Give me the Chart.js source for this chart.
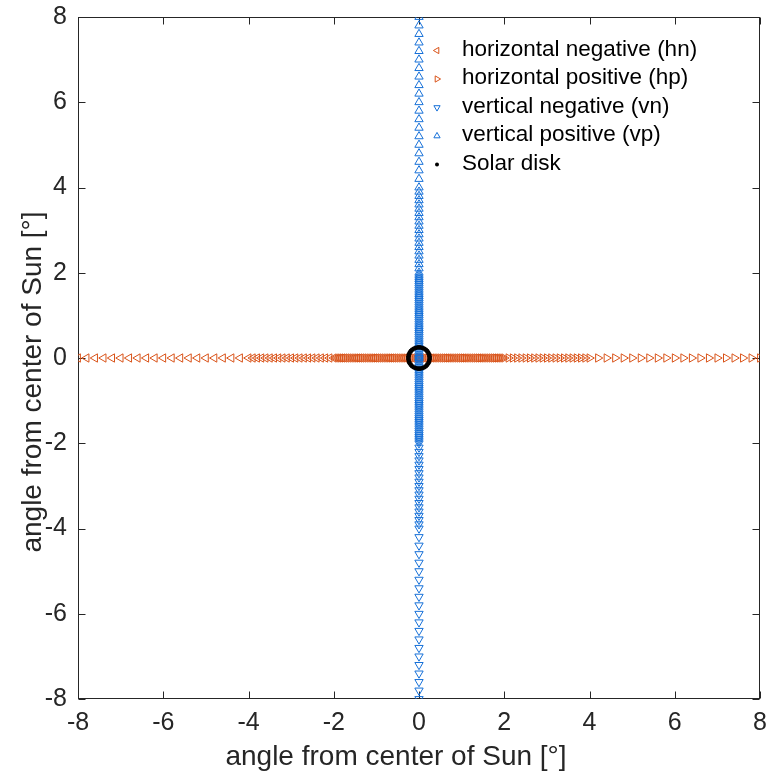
<!DOCTYPE html>
<html>
<head>
<meta charset="utf-8">
<script src="https://cdn.jsdelivr.net/npm/chart.js@4/dist/chart.umd.min.js"></script>
<style>
  html, body { margin: 0; padding: 0; background: #fff; }
  #wrap { width: 766px; height: 778px; position: relative; }
</style>
</head>
<body>
<div id="wrap"><canvas id="c" width="766" height="778"></canvas></div>
<script>
// ---- data (angles in degrees from the centre of the Sun) ----
const hnX = [-8,-7.8,-7.6,-7.4,-7.2,-7,-6.8,-6.6,-6.4,-6.2,-6,-5.8,-5.6,-5.4,-5.2,-5,-4.8,-4.6,-4.4,-4.2,
  -4,-3.9,-3.8,-3.7,-3.6,-3.5,-3.4,-3.3,-3.2,-3.1,-3,-2.9,-2.8,-2.7,-2.6,-2.5,-2.4,-2.3,-2.2,-2.1,
  -2,-1.95,-1.9,-1.85,-1.8,-1.75,-1.7,-1.65,-1.6,-1.55,-1.5,-1.45,-1.4,-1.35,-1.3,-1.25,-1.2,-1.15,-1.1,-1.05,
  -1,-0.95,-0.9,-0.85,-0.8,-0.75,-0.7,-0.65,-0.6,-0.55,-0.5,-0.45,-0.4,-0.35,-0.3,-0.25,-0.2,-0.15,-0.1,-0.05,0];
const hpX = [8,7.8,7.6,7.4,7.2,7,6.8,6.6,6.4,6.2,6,5.8,5.6,5.4,5.2,5,4.8,4.6,4.4,4.2,
  4,3.9,3.8,3.7,3.6,3.5,3.4,3.3,3.2,3.1,3,2.9,2.8,2.7,2.6,2.5,2.4,2.3,2.2,2.1,
  2,1.95,1.9,1.85,1.8,1.75,1.7,1.65,1.6,1.55,1.5,1.45,1.4,1.35,1.3,1.25,1.2,1.15,1.1,1.05,
  1,0.95,0.9,0.85,0.8,0.75,0.7,0.65,0.6,0.55,0.5,0.45,0.4,0.35,0.3,0.25,0.2,0.15,0.1,0.05,0];
const vnY = [-8,-7.8,-7.6,-7.4,-7.2,-7,-6.8,-6.6,-6.4,-6.2,-6,-5.8,-5.6,-5.4,-5.2,-5,-4.8,-4.6,-4.4,-4.2,
  -4,-3.9,-3.8,-3.7,-3.6,-3.5,-3.4,-3.3,-3.2,-3.1,-3,-2.9,-2.8,-2.7,-2.6,-2.5,-2.4,-2.3,-2.2,-2.1,
  -2,-1.95,-1.9,-1.85,-1.8,-1.75,-1.7,-1.65,-1.6,-1.55,-1.5,-1.45,-1.4,-1.35,-1.3,-1.25,-1.2,-1.15,-1.1,-1.05,
  -1,-0.95,-0.9,-0.85,-0.8,-0.75,-0.7,-0.65,-0.6,-0.55,-0.5,-0.45,-0.4,-0.35,-0.3,-0.25,-0.2,-0.15,-0.1,-0.05,0];
const vpY = [8,7.8,7.6,7.4,7.2,7,6.8,6.6,6.4,6.2,6,5.8,5.6,5.4,5.2,5,4.8,4.6,4.4,4.2,
  4,3.9,3.8,3.7,3.6,3.5,3.4,3.3,3.2,3.1,3,2.9,2.8,2.7,2.6,2.5,2.4,2.3,2.2,2.1,
  2,1.95,1.9,1.85,1.8,1.75,1.7,1.65,1.6,1.55,1.5,1.45,1.4,1.35,1.3,1.25,1.2,1.15,1.1,1.05,
  1,0.95,0.9,0.85,0.8,0.75,0.7,0.65,0.6,0.55,0.5,0.45,0.4,0.35,0.3,0.25,0.2,0.15,0.1,0.05,0];
const sunX = [0.25,0.246,0.235,0.217,0.192,0.161,0.125,0.086,0.043,0,-0.043,-0.086,-0.125,-0.161,-0.192,-0.217,-0.235,-0.246,
  -0.25,-0.246,-0.235,-0.217,-0.192,-0.161,-0.125,-0.086,-0.043,0,0.043,0.086,0.125,0.161,0.192,0.217,0.235,0.246];
const sunY = [0,0.043,0.086,0.125,0.161,0.192,0.217,0.235,0.246,0.25,0.246,0.235,0.217,0.192,0.161,0.125,0.086,0.043,
  0,-0.043,-0.086,-0.125,-0.161,-0.192,-0.217,-0.235,-0.246,-0.25,-0.246,-0.235,-0.217,-0.192,-0.161,-0.125,-0.086,-0.043];
const tickValues = [-8,-6,-4,-2,0,2,4,6,8];
const tickLabels = ['-8','-6','-4','-2','0','2','4','6','8'];
const seriesLabels = ['horizontal negative (hn)','horizontal positive (hp)','vertical negative (vn)','vertical positive (vp)','Solar disk'];
const axisTitle = 'angle from center of Sun [°]';

// ---- styling ----
const ORANGE = '#D95319';
const BLUE = '#1670D8';
const AXC = '#262626';
const FONT = '"Liberation Sans", Arial, Helvetica, sans-serif';

function tri(label, data, color, rot, order) {
  return { label, data, order, pointStyle: 'triangle', rotation: rot,
    borderColor: color, backgroundColor: 'rgba(0,0,0,0)', borderWidth: 1,
    pointRadius: 4.8, pointHoverRadius: 4.8, showLine: false };
}

const datasets = [
  tri(seriesLabels[0], hnX.map(x => ({x, y: 0})), ORANGE, 270, 5),
  tri(seriesLabels[1], hpX.map(x => ({x, y: 0})), ORANGE, 90, 4),
  tri(seriesLabels[2], vnY.map(y => ({x: 0, y})), BLUE, 180, 3),
  tri(seriesLabels[3], vpY.map(y => ({x: 0, y})), BLUE, 0, 2),
  { label: seriesLabels[4], data: sunX.map((x, i) => ({x, y: sunY[i]})), order: 1,
    pointStyle: 'circle', borderColor: '#000', backgroundColor: '#000', borderWidth: 0,
    pointRadius: 2.3, pointHoverRadius: 2.3, showLine: false }
];

const boxPlugin = {
  id: 'box',
  beforeDatasetsDraw(chart) {
    const {ctx, chartArea: a, scales} = chart;
    ctx.save();
    ctx.strokeStyle = AXC; ctx.lineWidth = 1;
    const L = Math.round(a.left) + 0.5, R = Math.round(a.right) - 0.5;
    const T = Math.round(a.top) + 0.5, B = Math.round(a.bottom) - 0.5;
    ctx.strokeRect(L, T, R - L, B - T);
    const tl = 7;
    ctx.beginPath();
    tickValues.forEach(v => {
      const px = Math.round(scales.x.getPixelForValue(v)) + 0.5;
      ctx.moveTo(px, B); ctx.lineTo(px, B - tl);
      ctx.moveTo(px, T); ctx.lineTo(px, T + tl);
      const py = Math.round(scales.y.getPixelForValue(v)) + 0.5;
      ctx.moveTo(L, py); ctx.lineTo(L + tl, py);
      ctx.moveTo(R, py); ctx.lineTo(R - tl, py);
    });
    ctx.stroke();
    ctx.restore();
  },
  afterDraw(chart) {
    const {ctx} = chart;
    ctx.save();
    // axis titles
    ctx.fillStyle = AXC;
    ctx.font = '28px ' + FONT;
    ctx.textAlign = 'center'; ctx.textBaseline = 'middle';
    ctx.fillText(axisTitle, 396, 757);
    ctx.translate(33, 382); ctx.rotate(-Math.PI / 2);
    ctx.fillText(axisTitle, 0, 0);
    ctx.restore();
    // legend
    ctx.save();
    const rows = [50.5, 79, 107.5, 136, 164.5];
    ctx.font = '22.5px ' + FONT;
    ctx.textAlign = 'left'; ctx.textBaseline = 'middle';
    chart.data.datasets.forEach((ds, i) => {
      const y = rows[i];
      if (ds.pointStyle === 'triangle') {
        ctx.strokeStyle = ds.borderColor; ctx.lineWidth = 1;
        ctx.beginPath();
        const r = 3.6, rad = ds.rotation * Math.PI / 180;
        for (let k = 0; k < 3; k++) {
          const ang = rad + k * 2 * Math.PI / 3;
          const px = 437 + Math.sin(ang) * r, py = y - Math.cos(ang) * r;
          if (k === 0) ctx.moveTo(px, py); else ctx.lineTo(px, py);
        }
        ctx.closePath(); ctx.stroke();
      } else {
        ctx.fillStyle = '#000';
        ctx.beginPath(); ctx.arc(437, y, 2, 0, Math.PI * 2); ctx.fill();
      }
      ctx.fillStyle = '#000';
      ctx.fillText(ds.label, 462, y - 1);
    });
    ctx.restore();
  }
};

function zeroPad(s) { s.paddingLeft = 0; s.paddingRight = 0; s.paddingTop = 0; s.paddingBottom = 0; }

new Chart(document.getElementById('c'), {
  type: 'scatter',
  data: { datasets },
  options: {
    responsive: false, animation: false, events: [],
    layout: { padding: { top: 17, right: 6, left: 0, bottom: 0 } },
    plugins: { legend: { display: false }, tooltip: { enabled: false } },
    scales: {
      x: {
        type: 'linear', min: -8, max: 8,
        afterBuildTicks(s) { s.ticks = tickValues.map(v => ({value: v})); },
        afterFit(s) { s.height = 79; zeroPad(s); },
        grid: { display: false, drawTicks: false }, border: { display: false },
        ticks: { padding: 9, color: AXC, font: { family: FONT, size: 25 },
          maxRotation: 0, autoSkip: false,
          callback: v => tickLabels[tickValues.indexOf(v)] }
      },
      y: {
        type: 'linear', min: -8, max: 8,
        afterBuildTicks(s) { s.ticks = tickValues.map(v => ({value: v})); },
        afterFit(s) { s.width = 78; zeroPad(s); },
        grid: { display: false, drawTicks: false }, border: { display: false },
        ticks: { padding: 11, color: AXC, font: { family: FONT, size: 25 }, autoSkip: false,
          callback: v => tickLabels[tickValues.indexOf(v)] }
      }
    }
  },
  plugins: [boxPlugin]
});
</script>
</body>
</html>
